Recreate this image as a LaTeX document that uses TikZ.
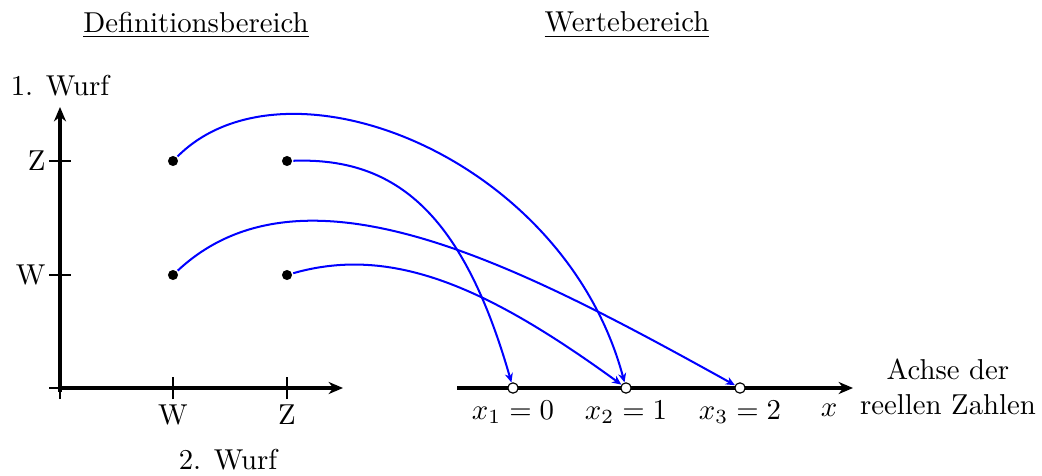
\documentclass[tikz,border=0pt]{standalone}
\usetikzlibrary{arrows.meta}
\begin{document}
\begin{tikzpicture}[x=0.3475pt,y=0.3475pt,
  axis/.style={line width=1.4pt,-{Stealth[length=5pt,width=4.2pt,inset=1.6pt]}},
  tick/.style={line width=0.4pt},
  dot/.style={circle,fill=black,inner sep=0pt,minimum size=3.5pt,outer sep=0.5pt},
  odot/.style={circle,draw=black,fill=white,line width=0.4pt,inner sep=0pt,minimum size=3.6pt},
  map/.style={blue,line width=0.7pt,-{Stealth[length=3.2pt,width=2.8pt,inset=1pt]}}]
\useasboundingbox (0,0) rectangle (1042,475);
% headings
\node (h1) at (196,450) {\underline{Definitionsbereich}};
\node (h2) at (627,450) {\underline{Wertebereich}};
% left axes
\coordinate (O) at (60,87);
\coordinate (yend) at (60,368);
\coordinate (xend) at (343,87);
\foreach \x in {60,173,287} \draw[tick] (\x,76) -- (\x,98);
\foreach \y in {87,200,314} \draw[tick] (49,\y) -- (71,\y);
\draw[axis] (60,83) -- (yend);
\draw[axis] (58,87) -- (xend);
\node[anchor=east,inner sep=1pt] (lZ) at (49,314) {Z};
\node[anchor=east,inner sep=1pt] (lW) at (49,200) {W};
\node[anchor=north,inner sep=2pt] (bW) at (173,76) {W};
\node[anchor=north,inner sep=2pt] (bZ) at (287,76) {Z};
\node (w1) at (60,389) {1. Wurf};
\node (w2) at (228,15) {2. Wurf};
% dots
\node[dot] (WZ) at (173,314) {};
\node[dot] (ZZ) at (287,314) {};
\node[dot] (WW) at (173,200) {};
\node[dot] (ZW) at (287,200) {};
% right axis
\coordinate (rs) at (457,87);
\coordinate (re) at (853,87);
\draw[axis] (rs) -- (re);
\node[odot] (x1) at (513,87) {};
\node[odot] (x2) at (626,87) {};
\node[odot] (x3) at (740,87) {};
\node[anchor=base] (l1) at (513,56) {$x_1=0$};
\node[anchor=base] (l2) at (626,56) {$x_2=1$};
\node[anchor=base] (l3) at (740,56) {$x_3=2$};
\node[anchor=base] (lx) at (829,59) {$x$};
\node[align=center] (ach) at (948,88) {Achse der\\reellen Zahlen};
% mappings
\draw[map] (WZ) .. controls +(45:160) and +(105:240) .. (x2);
\draw[map] (ZZ) .. controls +(2:110) and +(106:180) .. (x1);
\draw[map] (WW) .. controls +(43:180) and +(151:250) .. (x3);
\draw[map] (ZW) .. controls +(16:110) and +(144:170) .. (x2);
\end{tikzpicture}
\end{document}
